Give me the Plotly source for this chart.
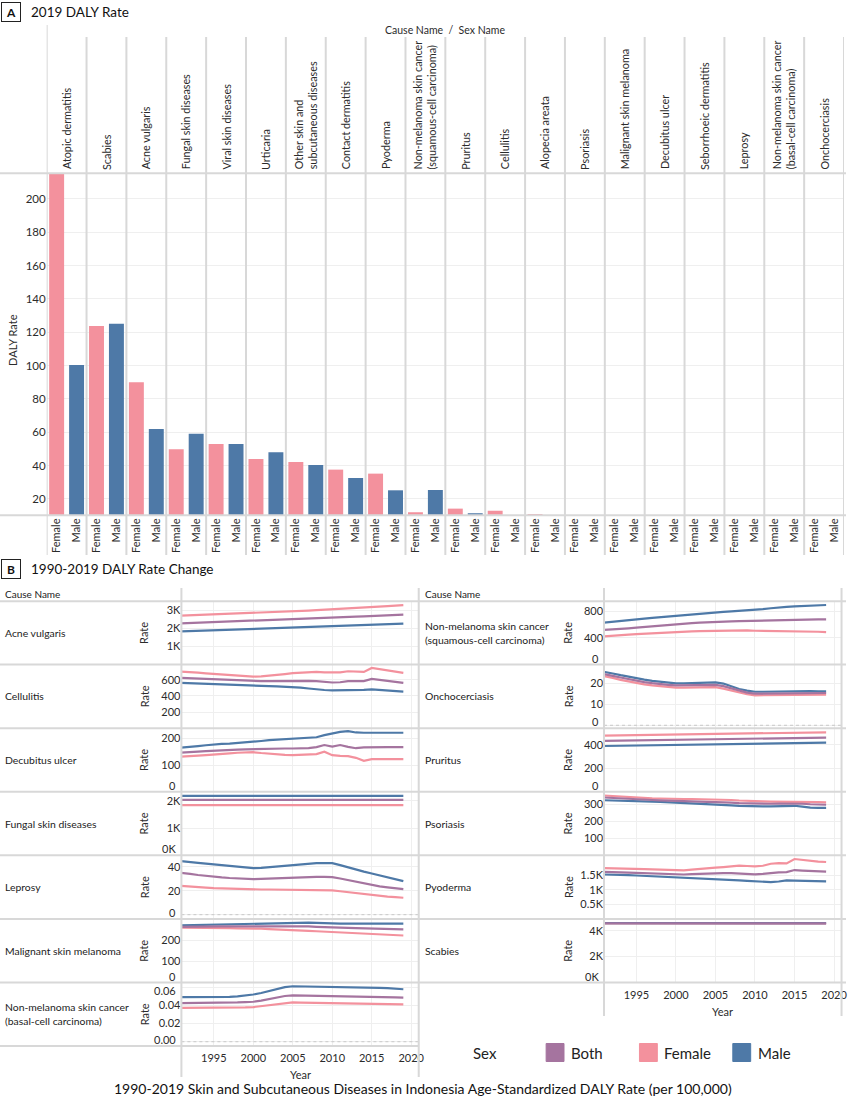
import plotly.graph_objects as go

W, H = 852, 1096
FONT = "Lato"
C_FEMALE = "#F3919D"
C_MALE = "#4E79A7"
C_BOTH = "#A5749F"
GRID = "#EFEFEF"
SEP = "#D8D8D8"
TXT = "#2B2B2B"

# ---------------- DATA ----------------
CAUSES_2019 = ["Atopic dermatitis", "Scabies", "Acne vulgaris", "Fungal skin diseases",
               "Viral skin diseases", "Urticaria", "Other skin and<br>subcutaneous diseases",
               "Contact dermatitis", "Pyoderma",
               "Non-melanoma skin cancer<br>(squamous-cell carcinoma)", "Pruritus", "Cellulitis",
               "Alopecia areata", "Psoriasis", "Malignant skin melanoma", "Decubitus ulcer",
               "Seborrhoeic dermatitis", "Leprosy",
               "Non-melanoma skin cancer<br>(basal-cell carcinoma)", "Onchocerciasis"]
SEX_LABELS = ["Female", "Male"]
DALY_2019_FEMALE = [216.0, 123.8, 90.0, 49.8, 53.0, 44.0, 42.2, 37.6, 35.2, 12.0,
                    14.2, 13.0, 11.0, 8.0, 6.0, 4.0, 5.0, 2.0, 1.0, 0.5]
DALY_2019_MALE = [100.4, 125.2, 62.0, 59.2, 53.0, 48.0, 40.4, 32.6, 25.2, 25.4,
                  11.4, 8.0, 4.0, 8.0, 7.0, 5.0, 6.0, 3.0, 1.0, 0.5]
BAR_TICKS = [20, 40, 60, 80, 100, 120, 140, 160, 180, 200]

YEARS = [1990, 1991, 1992, 1993, 1994, 1995, 1996, 1997, 1998, 1999,
         2000, 2001, 2002, 2003, 2004, 2005, 2006, 2007, 2008, 2009,
         2010, 2011, 2012, 2013, 2014, 2015, 2016, 2017, 2018, 2019]
YEAR_TICKS = [1995, 2000, 2005, 2010, 2015, 2020]
SERIES = ["Both", "Female", "Male"]

LEFT_CAUSES = ["Acne vulgaris", "Cellulitis", "Decubitus ulcer", "Fungal skin diseases",
               "Leprosy", "Malignant skin melanoma",
               "Non-melanoma skin cancer (basal-cell carcinoma)"]
RIGHT_CAUSES = ["Non-melanoma skin cancer (squamous-cell carcinoma)", "Onchocerciasis",
                "Pruritus", "Psoriasis", "Pyoderma", "Scabies"]

RATE_FEMALE = {
    "Acne vulgaris": [2690, 2705, 2720, 2735, 2750, 2765, 2780, 2795, 2810, 2825, 2840, 2860, 2880, 2900, 2920,
                      2940, 2960, 2985, 3010, 3030, 3050, 3075, 3100, 3125, 3150, 3175, 3200, 3230, 3260, 3290],
    "Cellulitis": [705, 702, 696, 689, 681, 673, 665, 657, 650, 645, 640, 643, 650, 660, 671,
                   682, 688, 693, 698, 692, 690, 693, 706, 702, 698, 747, 731, 714, 700, 686],
    "Decubitus ulcer": [130, 131, 133, 135, 137, 140, 142, 144, 146, 147, 148, 145, 142, 139, 138,
                        137, 138, 139, 141, 150, 137, 134, 133, 127, 116, 122, 122, 122, 122, 122],
    "Fungal skin diseases": [1840, 1840, 1841, 1841, 1841, 1842, 1842, 1842, 1842, 1842, 1842, 1842, 1841, 1841, 1841,
                             1841, 1840, 1840, 1840, 1840, 1839, 1839, 1839, 1839, 1838, 1838, 1838, 1838, 1838, 1838],
    "Leprosy": [24.5, 24.2, 23.7, 23.2, 22.7, 22.3, 22.0, 21.7, 21.4, 21.2, 21.1, 21.1, 21.1, 21.0, 21.0,
                21.0, 20.9, 20.8, 20.6, 20.5, 20.3, 19.6, 18.8, 18.0, 17.2, 16.4, 15.8, 15.2, 14.7, 14.2],
    "Malignant skin melanoma": [261, 261, 260, 260, 259, 259, 258, 258, 257, 257, 256, 255, 253, 252, 250,
                                248, 247, 245, 243, 241, 240, 238, 236, 234, 232, 229, 227, 226, 224, 223],
    "Non-melanoma skin cancer (basal-cell carcinoma)": [
        0.0370, 0.0370, 0.0370, 0.0370, 0.0371, 0.0371, 0.0372, 0.0373, 0.0375, 0.0377,
        0.0380, 0.0390, 0.0403, 0.0417, 0.0427, 0.0431, 0.0430, 0.0429, 0.0427, 0.0425,
        0.0424, 0.0423, 0.0422, 0.0421, 0.0420, 0.0418, 0.0416, 0.0414, 0.0412, 0.0410],
    "Non-melanoma skin cancer (squamous-cell carcinoma)": [
        415, 420, 429, 438, 446, 455, 462, 469, 476, 483, 490, 493, 496, 499, 502,
        505, 507, 509, 512, 509, 505, 504, 503, 502, 501, 500, 497, 494, 490, 485],
    "Onchocerciasis": [24.1, 23.5, 22.6, 21.7, 20.9, 20.1, 19.5, 19.0, 18.6, 18.3, 18.0, 18.0, 18.1, 18.1, 18.2,
                       18.2, 17.5, 16.6, 15.6, 14.8, 14.3, 14.3, 14.4, 14.5, 14.6, 14.6, 14.6, 14.6, 14.6, 14.6],
    "Pruritus": [479, 480, 481, 482, 483, 484, 485, 486, 487, 487, 488, 489, 490, 491, 492,
                 493, 494, 495, 496, 497, 498, 499, 500, 501, 502, 503, 504, 505, 506, 508],
    "Psoriasis": [355, 352, 348, 345, 341, 338, 337, 336, 335, 333, 332, 332, 332, 331, 331,
                  331, 329, 326, 323, 320, 318, 318, 317, 317, 316, 316, 315, 314, 313, 312],
    "Pyoderma": [1755, 1752, 1746, 1740, 1734, 1728, 1716, 1705, 1694, 1683, 1672, 1674, 1700, 1730, 1750,
                 1765, 1785, 1805, 1834, 1822, 1810, 1830, 1900, 1924, 1910, 2062, 2025, 1993, 1975, 1959],
    "Scabies": [4556, 4556, 4555, 4555, 4555, 4555, 4554, 4554, 4554, 4554, 4554, 4554, 4554, 4554, 4554,
                4554, 4554, 4554, 4553, 4553, 4553, 4553, 4553, 4553, 4553, 4553, 4553, 4553, 4553, 4553],
}
RATE_MALE = {
    "Acne vulgaris": [1820, 1835, 1850, 1865, 1880, 1895, 1905, 1915, 1925, 1935, 1945, 1960, 1975, 1990, 2005,
                      2020, 2035, 2055, 2075, 2095, 2115, 2130, 2145, 2160, 2175, 2190, 2205, 2225, 2245, 2260],
    "Cellulitis": [566, 563, 560, 556, 553, 550, 546, 542, 538, 534, 530, 526, 522, 518, 514,
                   511, 502, 492, 481, 474, 469, 469, 469, 472, 476, 481, 474, 466, 459, 453],
    "Decubitus ulcer": [163, 165, 168, 171, 174, 177, 179, 180, 182, 184, 186, 190, 193, 195, 196,
                        197, 199, 201, 204, 212, 219, 224, 227, 222, 221, 221, 222, 222, 222, 221],
    "Fungal skin diseases": [2180, 2181, 2181, 2182, 2182, 2182, 2183, 2183, 2183, 2183, 2183, 2183, 2183, 2183, 2183,
                             2183, 2182, 2182, 2182, 2182, 2181, 2181, 2181, 2181, 2180, 2180, 2180, 2180, 2180, 2180],
    "Leprosy": [45.5, 45.0, 44.2, 43.4, 42.7, 42.0, 41.2, 40.4, 39.7, 39.2, 38.9, 39.2, 39.8, 40.5, 41.0,
                41.4, 42.0, 42.6, 43.1, 43.2, 43.1, 41.5, 39.5, 37.5, 36.0, 34.5, 32.8, 31.2, 29.6, 28.1],
    "Malignant skin melanoma": [270, 271, 272, 272, 273, 274, 274, 275, 276, 276, 277, 278, 279, 280, 281,
                                282, 283, 284, 283, 281, 279, 279, 279, 279, 279, 279, 279, 279, 279, 279],
    "Non-melanoma skin cancer (basal-cell carcinoma)": [
        0.0489, 0.0489, 0.0489, 0.0489, 0.0489, 0.0489, 0.0490, 0.0493, 0.0498, 0.0506,
        0.0518, 0.0535, 0.0556, 0.0580, 0.0600, 0.0609, 0.0608, 0.0606, 0.0604, 0.0601,
        0.0598, 0.0597, 0.0596, 0.0595, 0.0595, 0.0594, 0.0592, 0.0588, 0.0582, 0.0576],
    "Non-melanoma skin cancer (squamous-cell carcinoma)": [
        615, 625, 637, 650, 662, 675, 686, 697, 708, 719, 730, 740, 750, 760, 770,
        780, 787, 794, 801, 808, 815, 828, 841, 855, 863, 870, 875, 880, 885, 890],
    "Onchocerciasis": [26.2, 25.6, 24.7, 23.9, 23.1, 22.4, 21.8, 21.2, 20.7, 20.3, 20.0, 20.0, 20.1, 20.2, 20.4,
                       20.5, 19.9, 18.6, 17.3, 16.5, 16.0, 16.0, 16.1, 16.2, 16.3, 16.3, 16.3, 16.3, 16.2, 16.2],
    "Pruritus": [390, 391, 392, 393, 394, 395, 396, 397, 398, 399, 400, 401, 402, 403, 404,
                 405, 406, 407, 408, 409, 410, 411, 412, 413, 414, 415, 416, 417, 418, 420],
    "Psoriasis": [326, 324, 322, 321, 319, 318, 317, 316, 315, 313, 312, 309, 306, 303, 300,
                  298, 296, 294, 291, 289, 288, 288, 289, 290, 291, 292, 287, 281, 280, 280],
    "Pyoderma": [1536, 1534, 1525, 1515, 1505, 1495, 1484, 1472, 1462, 1452, 1441, 1407, 1398, 1392, 1388,
                 1386, 1375, 1360, 1328, 1310, 1293, 1285, 1269, 1290, 1328, 1320, 1310, 1300, 1295, 1293],
    "Scabies": [4588, 4588, 4587, 4587, 4587, 4587, 4586, 4586, 4586, 4586, 4586, 4586, 4586, 4586, 4586,
                4586, 4586, 4586, 4585, 4585, 4585, 4585, 4585, 4585, 4585, 4585, 4585, 4585, 4585, 4585],
}
RATE_BOTH = {
    "Acne vulgaris": [2265, 2280, 2295, 2310, 2325, 2340, 2355, 2370, 2385, 2400, 2415, 2430, 2445, 2460, 2475,
                      2490, 2510, 2530, 2550, 2570, 2590, 2610, 2630, 2650, 2670, 2690, 2710, 2730, 2750, 2765],
    "Cellulitis": [628, 624, 618, 612, 606, 600, 596, 592, 588, 586, 584, 584, 585, 587, 588,
                   589, 588, 586, 584, 575, 567, 570, 584, 584, 584, 612, 598, 585, 574, 563],
    "Decubitus ulcer": [145, 146, 148, 150, 152, 154, 156, 157, 158, 159, 160, 160, 161, 161, 162,
                        162, 163, 163, 167, 175, 169, 175, 168, 163, 166, 167, 167, 167, 167, 167],
    "Fungal skin diseases": [2030, 2030, 2031, 2031, 2031, 2032, 2032, 2032, 2032, 2032, 2032, 2032, 2031, 2031, 2031,
                             2031, 2030, 2030, 2030, 2030, 2029, 2029, 2029, 2029, 2028, 2028, 2028, 2028, 2028, 2028],
    "Leprosy": [35.5, 35.0, 34.1, 33.2, 32.4, 31.7, 31.2, 30.7, 30.3, 29.9, 29.7, 29.9, 30.2, 30.6, 30.9,
                31.1, 31.3, 31.5, 31.7, 31.7, 31.4, 30.3, 28.9, 27.3, 25.9, 24.7, 23.7, 22.9, 22.1, 21.4],
    "Malignant skin melanoma": [263, 264, 264, 265, 265, 265, 266, 266, 266, 267, 267, 267, 268, 268, 268,
                                268, 267, 266, 264, 262, 261, 260, 259, 258, 257, 255, 254, 253, 252, 252],
    "Non-melanoma skin cancer (basal-cell carcinoma)": [
        0.0424, 0.0424, 0.0424, 0.0424, 0.0425, 0.0425, 0.0426, 0.0428, 0.0431, 0.0435,
        0.0439, 0.0452, 0.0468, 0.0487, 0.0502, 0.0508, 0.0507, 0.0505, 0.0503, 0.0501,
        0.0500, 0.0499, 0.0498, 0.0497, 0.0496, 0.0494, 0.0492, 0.0489, 0.0486, 0.0483],
    "Non-melanoma skin cancer (squamous-cell carcinoma)": [
        510, 515, 524, 533, 541, 550, 561, 572, 583, 594, 605, 612, 619, 626, 633,
        640, 643, 646, 649, 652, 655, 659, 663, 667, 671, 675, 675, 675, 675, 675],
    "Onchocerciasis": [25.1, 24.5, 23.6, 22.8, 22.0, 21.2, 20.6, 20.1, 19.6, 19.3, 19.0, 19.0, 19.1, 19.1, 19.3,
                       19.3, 18.7, 17.6, 16.4, 15.6, 15.1, 15.1, 15.2, 15.3, 15.4, 15.4, 15.4, 15.4, 15.4, 15.4],
    "Pruritus": [433, 434, 435, 436, 437, 438, 439, 440, 441, 442, 443, 444, 445, 446, 447,
                 448, 449, 450, 451, 452, 453, 454, 455, 456, 457, 458, 459, 460, 461, 463],
    "Psoriasis": [343, 340, 337, 334, 331, 328, 327, 326, 324, 323, 322, 321, 320, 319, 317,
                  316, 314, 311, 308, 306, 304, 304, 304, 305, 305, 306, 304, 301, 299, 298],
    "Pyoderma": [1630, 1628, 1617, 1606, 1595, 1585, 1573, 1562, 1550, 1537, 1524, 1530, 1545, 1560, 1572,
                 1579, 1580, 1575, 1560, 1545, 1534, 1550, 1580, 1600, 1613, 1683, 1665, 1650, 1640, 1628],
    "Scabies": [4572, 4572, 4571, 4571, 4571, 4571, 4570, 4570, 4570, 4570, 4570, 4570, 4570, 4570, 4570,
                4570, 4570, 4570, 4569, 4569, 4569, 4569, 4569, 4569, 4569, 4569, 4569, 4569, 4569, 4569],
}

TICK_VALUES = {
    "Acne vulgaris": [1000, 2000, 3000],
    "Cellulitis": [200, 400, 600],
    "Decubitus ulcer": [0, 100, 200],
    "Fungal skin diseases": [0, 1000, 2000],
    "Leprosy": [0, 20, 40],
    "Malignant skin melanoma": [0, 100, 200],
    "Non-melanoma skin cancer (basal-cell carcinoma)": [0, 0.02, 0.04, 0.06],
    "Non-melanoma skin cancer (squamous-cell carcinoma)": [0, 400, 800],
    "Onchocerciasis": [0, 10, 20],
    "Pruritus": [0, 200, 400],
    "Psoriasis": [100, 200, 300],
    "Pyoderma": [500, 1000, 1500],
    "Scabies": [0, 2000, 4000],
}
TICK_TEXT = {
    "Acne vulgaris": ["1K", "2K", "3K"],
    "Cellulitis": ["200", "400", "600"],
    "Decubitus ulcer": ["0", "100", "200"],
    "Fungal skin diseases": ["0K", "1K", "2K"],
    "Leprosy": ["0", "20", "40"],
    "Malignant skin melanoma": ["0", "100", "200"],
    "Non-melanoma skin cancer (basal-cell carcinoma)": ["0.00", "0.02", "0.04", "0.06"],
    "Non-melanoma skin cancer (squamous-cell carcinoma)": ["0", "400", "800"],
    "Onchocerciasis": ["0", "10", "20"],
    "Pruritus": ["0", "200", "400"],
    "Psoriasis": ["100", "200", "300"],
    "Pyoderma": ["0.5K", "1K", "1.5K"],
    "Scabies": ["0K", "2K", "4K"],
}

# ---------------- LAYOUT SETTINGS ----------------
Y_RANGES = {
    "Acne vulgaris": [0, 3500],
    "Cellulitis": [0, 790],
    "Decubitus ulcer": [0, 238],
    "Fungal skin diseases": [0, 2330],
    "Leprosy": [-3.6, 49.7],
    "Malignant skin melanoma": [0, 301],
    "Non-melanoma skin cancer (basal-cell carcinoma)": [-0.0047, 0.0649],
    "Non-melanoma skin cancer (squamous-cell carcinoma)": [0, 945],
    "Onchocerciasis": [-1.4, 29],
    "Pruritus": [0, 543],
    "Psoriasis": [0, 375],
    "Pyoderma": [0, 2190],
    "Scabies": [0, 4900],
}
ROW_EDGES = [601.3, 664.5, 728.2, 791.7, 855.3, 919.0, 982.6, 1046.0]
X_RANGE = [1990.9, 2020.95]


def px(x):
    return x / W


def py(y):
    return 1 - y / H


def disp(name):
    return name.replace(" (", "<br>(")


def ann(text, x, y, size=11, color=TXT, xanchor="center", yanchor="middle", **kw):
    d = dict(text=text, xref="paper", yref="paper", x=px(x), y=py(y), showarrow=False,
             xanchor=xanchor, yanchor=yanchor, font=dict(family=FONT, size=size, color=color))
    d.update(kw)
    return d


fig = go.Figure()
layout = dict(
    width=W, height=H, margin=dict(l=0, r=0, t=0, b=0),
    paper_bgcolor="white", plot_bgcolor="white",
    font=dict(family=FONT, size=11, color=TXT),
    showlegend=False,
)
annotations = []
shapes = []

# ---------------- PANEL A: bars ----------------
n = len(CAUSES_2019)
x_f = [2 * i + 0.5 for i in range(n)]
x_m = [2 * i + 1.5 for i in range(n)]
fig.add_trace(go.Bar(x=x_f, y=DALY_2019_FEMALE, width=0.75, marker=dict(color=C_FEMALE, line=dict(width=0)),
                     xaxis="x", yaxis="y", name="Female"))
fig.add_trace(go.Bar(x=x_m, y=DALY_2019_MALE, width=0.75, marker=dict(color=C_MALE, line=dict(width=0)),
                     xaxis="x", yaxis="y", name="Male"))

layout["xaxis"] = dict(domain=[px(47), px(850)], range=[0, 2 * n], anchor="y",
                       tickvals=x_f + x_m, ticktext=[SEX_LABELS[0]] * n + [SEX_LABELS[1]] * n,
                       tickangle=-90, tickfont=dict(size=11, color=TXT), showgrid=False,
                       zeroline=False, showline=False, ticks="")
layout["yaxis"] = dict(domain=[py(515.3), py(173.3)], range=[10.2, 215.4], anchor="x",
                       tickvals=BAR_TICKS, tickfont=dict(size=11.5, color=TXT), gridcolor=GRID,
                       zeroline=False, showline=False, ticks="")

# column separators (bar chart)
for k in range(n + 1):
    shapes.append(dict(type="line", xref="x", yref="paper", x0=2 * k, x1=2 * k,
                       y0=py(555), y1=py(25 if k == 0 else 37), line=dict(color=SEP, width=2)))
for yy in (173.3, 515.3):
    shapes.append(dict(type="line", xref="paper", yref="paper", x0=0, x1=1, y0=py(yy), y1=py(yy),
                       line=dict(color=SEP, width=2)))
# column header labels
for i, c in enumerate(CAUSES_2019):
    annotations.append(dict(text=c, xref="x", yref="paper", x=2 * i + 1, y=py(171.5),
                            textangle=-90, xanchor="center", yanchor="bottom", showarrow=False,
                            align="left", font=dict(family=FONT, size=10.8, color=TXT)))
annotations.append(ann("Cause Name  /  Sex Name", 448, 30, size=10.5))
annotations.append(ann("DALY Rate", 12, 340, size=11, textangle=-90))

# panel letters and titles
for letter, title, yc in (("A", "2019 DALY Rate", 11.5), ("B", "1990-2019 DALY Rate Change", 568.5)):
    annotations.append(ann("<b>" + letter + "</b>", 11.5, yc, size=12, color="#111", width=16, height=16,
                           borderpad=1, borderwidth=1, bordercolor="#222"))
    annotations.append(ann(title, 29, yc, size=13.5, color="#111", xanchor="left"))

# ---------------- PANEL B: line small multiples ----------------
colors = {"Both": C_BOTH, "Female": C_FEMALE, "Male": C_MALE}
data_by_sex = {"Both": RATE_BOTH, "Female": RATE_FEMALE, "Male": RATE_MALE}

col_specs = [
    (LEFT_CAUSES, 182.7, 421.7, 3.5, 145),
    (RIGHT_CAUSES, 608.3, 847.5, 426.5, 572),
]
idx = 2
for causes, xl, xr, name_x, rate_x in col_specs:
    for r, cause in enumerate(causes):
        top, bot = ROW_EDGES[r], ROW_EDGES[r + 1]
        xa, ya = "x%d" % idx, "y%d" % idx
        last = (r == len(causes) - 1)
        for sex in ("Female", "Male", "Both"):
            fig.add_trace(go.Scatter(x=YEARS, y=data_by_sex[sex][cause], mode="lines",
                                     line=dict(color=colors[sex], width=2.2), name=sex,
                                     xaxis=xa, yaxis=ya))
        layout["xaxis%d" % idx] = dict(domain=[px(xl), px(xr)], range=X_RANGE, anchor=ya,
                                       tickvals=YEAR_TICKS, showgrid=True, gridcolor=GRID,
                                       zeroline=False, showline=False, showticklabels=last,
                                       ticks="outside" if last else "", ticklen=2,
                                       tickcolor="rgba(0,0,0,0)", tickfont=dict(size=11, color=TXT))
        # y tick labels: labels at a panel edge are nudged inside (as in the original)
        lo, hi = Y_RANGES[cause]
        texts = []
        for v, t in zip(TICK_VALUES[cause], TICK_TEXT[cause]):
            p = bot - (v - lo) / (hi - lo) * (bot - top)
            c = min(max(p, top + 7.5), bot - 6.5)
            if abs(c - p) > 0.5:
                texts.append("")
                annotations.append(ann(t, xl - 3, c, size=11, xanchor="right"))
            else:
                texts.append(t)
        layout["yaxis%d" % idx] = dict(domain=[py(bot), py(top)], range=Y_RANGES[cause], anchor=xa,
                                       tickvals=TICK_VALUES[cause], ticktext=texts, showgrid=True,
                                       gridcolor=GRID, zeroline=False, showline=False, ticks="",
                                       tickfont=dict(size=11, color=TXT))
        if lo < 0:
            shapes.append(dict(type="line", xref=xa + " domain", yref=ya, x0=0, x1=1, y0=0, y1=0,
                               line=dict(color="#C8C8C8", width=1, dash="dot")))
        annotations.append(ann(disp(cause), name_x, (top + bot) / 2, size=10.4, color="#222",
                               xanchor="left", align="left"))
        annotations.append(ann("Rate", rate_x, (top + bot) / 2, size=11, textangle=-90))
        if last:
            annotations.append(ann("Year", (xl + xr) / 2, bot + 28.5, size=11))
        idx += 1
    annotations.append(ann("Cause Name", name_x, 594.3, size=10, color="#222", xanchor="left"))

# panel B separators
for yy in ROW_EDGES[:-1]:
    shapes.append(dict(type="line", xref="paper", yref="paper", x0=0, x1=1, y0=py(yy), y1=py(yy),
                       line=dict(color=SEP, width=2)))
shapes.append(dict(type="line", xref="paper", yref="paper", x0=0, x1=px(421.7), y0=py(1046), y1=py(1046),
                   line=dict(color=SEP, width=2)))
for xx, y_end in ((182.7, 1077), (421.7, 1077), (608.3, 1016), (847.5, 1016)):
    shapes.append(dict(type="line", xref="paper", yref="paper", x0=px(xx), x1=px(xx),
                       y0=py(588), y1=py(y_end), line=dict(color=SEP, width=2)))

# ---------------- LEGEND ----------------
annotations.append(ann("Sex", 488, 1052.5, size=15, color="#222"))
for sex, x0 in zip(SERIES, (550, 644, 738)):
    shapes.append(dict(type="rect", xref="paper", yref="paper", x0=px(x0), x1=px(x0 + 18),
                       y0=py(1061.5), y1=py(1043.5), fillcolor=colors[sex],
                       line=dict(color=colors[sex], width=1)))
    annotations.append(ann(sex, x0 + 23, 1052.5, size=15, color="#222", xanchor="left"))

annotations.append(ann("1990-2019 Skin and Subcutaneous Diseases in Indonesia Age-Standardized DALY Rate (per 100,000)",
                       426, 1088, size=14, color="#111"))

layout["annotations"] = annotations
layout["shapes"] = shapes
fig.update_layout(**layout)
fig.write_html("out.html")
